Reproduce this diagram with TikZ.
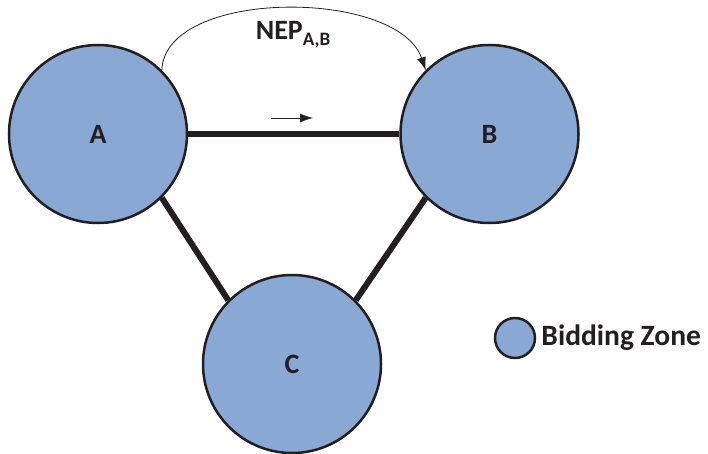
\documentclass[tikz,border=0pt]{standalone}
\usepackage{fontspec}
\setmainfont{Carlito}
\usetikzlibrary{arrows.meta, positioning}
\definecolor{zoneblue}{HTML}{8AA8D4}
\definecolor{inkblack}{HTML}{231F20}

\begin{document}
\begin{tikzpicture}[
    x=1pt, y=-1pt,
    node distance=211pt and 211pt,
    zone/.style={draw=inkblack, line width=2.5pt, circle, fill=zoneblue, minimum size=178pt, inner sep=0pt,
        font=\fontsize{28}{30}\selectfont\bfseries, text=inkblack},
    legendzone/.style={zone, minimum size=40pt},
    link/.style={draw=inkblack, line width=6pt},
    flow/.style={draw=inkblack, line width=0.8pt, -{Latex[length=13pt, width=9pt]}},
    labeltext/.style={font=\fontsize{28}{30}\selectfont\bfseries, text=inkblack, inner sep=0pt},
]
\useasboundingbox (0,0) rectangle (708,454);
\node[zone] (A) at (98,134) {A};
\node[zone, right=of A] (B) {B};
\node[zone] (C) at (292,364) {C};
\draw[link] (A) -- (B);
\draw[link] (A.-45) -- (C.135);
\draw[link] (B.-135) -- (C.45);
\draw[flow] (A.45) .. controls +(3,-82) and +(-28,-82) .. (B.135);
\node[labeltext] (nep) at (293,35) {NEP\raisebox{-6pt}{\fontsize{19}{20}\selectfont A,B}};
\coordinate (flowS) at (271,118);
\coordinate (flowE) at (313,118);
\draw[flow] (flowS) -- (flowE);
\node[legendzone] (legend) at (515,338) {};
\node[labeltext, font=\fontsize{29.5}{32}\selectfont\bfseries, right=5pt of legend] (legendtxt) {Bidding Zone};
\end{tikzpicture}
\end{document}
